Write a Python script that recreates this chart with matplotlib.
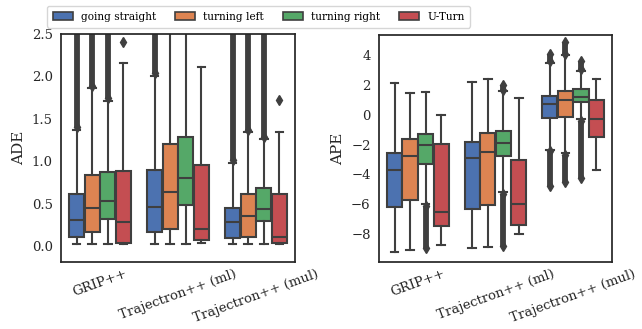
import matplotlib
matplotlib.use("Agg")
import matplotlib.pyplot as plt
from matplotlib.patches import Patch

plt.rcParams['font.family'] = ['DejaVu Serif']
plt.rcParams['axes.edgecolor'] = '#262626'
plt.rcParams['axes.linewidth'] = 1.25

groups = ["GRIP++", "Trajectron++ (ml)", "Trajectron++ (mul)"]
hues = ["going straight", "turning left", "turning right", "U-Turn"]
colors = ["#4C72B0", "#DD8452", "#55A868", "#C44E52"]

# ADE stats per group (rows) and hue (cols)
ade_whislo = [[0.02, 0.02, 0.02, 0.02], [0.02, 0.02, 0.02, 0.04], [0.02, 0.02, 0.02, 0.02]]
ade_q1 = [[0.10, 0.16, 0.32, 0.04], [0.16, 0.20, 0.48, 0.07], [0.09, 0.11, 0.29, 0.03]]
ade_med = [[0.30, 0.45, 0.53, 0.28], [0.46, 0.64, 0.80, 0.20], [0.28, 0.355, 0.44, 0.10]]
ade_q3 = [[0.61, 0.84, 0.87, 0.885], [0.90, 1.20, 1.29, 0.96], [0.45, 0.61, 0.68, 0.61]]
ade_whishi = [[1.37, 1.86, 1.71, 2.16], [2.01, 2.8, 2.8, 2.11], [0.98, 1.34, 1.26, 1.34]]
# dense outlier ranges (low, high) and single outliers
ade_dense = [[[(1.40, 2.8)], [(1.89, 2.8)], [(1.74, 2.8)], []],
             [[(2.04, 2.8)], [], [], []],
             [[(1.01, 2.8)], [(1.37, 2.8)], [(1.29, 2.8)], []]]
ade_single = [[[], [], [], [2.40]], [[], [], [], []], [[], [], [], [1.72]]]

ape_whislo = [[-9.24, -9.08, -6.0, -8.74], [-8.94, -8.9, -5.2, -8.0], [-2.35, -2.6, -0.3, -3.73]]
ape_q1 = [[-6.2, -5.75, -3.28, -7.5], [-6.31, -6.09, -2.79, -7.44], [-0.2, -0.13, 0.85, -1.48]]
ape_med = [[-3.71, -2.79, -2.02, -6.56], [-2.88, -2.49, -1.91, -5.98], [0.74, 1.01, 1.21, -0.31]]
ape_q3 = [[-2.56, -1.6, -1.28, -1.93], [-1.84, -1.21, -1.06, -3.01], [1.30, 1.57, 1.71, 0.99]]
ape_whishi = [[2.11, 1.44, 1.53, -0.04], [2.22, 2.43, 1.6, 1.1], [3.5, 4.0, 2.95, 2.38]]
ape_dense = [[[], [], [(-8.95, -6.1)], []],
             [[], [], [(-8.85, -5.3), (1.7, 2.0)], []],
             [[(-4.8, -2.45), (3.6, 4.1)], [(-4.55, -2.7), (4.1, 4.9)], [(-4.25, -0.4), (3.05, 3.6)], []]]
ape_single = [[[], [], [], []], [[], [], [], []], [[], [], [], []]]

ade_ticks = [0.0, 0.5, 1.0, 1.5, 2.0, 2.5]
ape_ticks = [-8, -6, -4, -2, 0, 2, 4]

fig = plt.figure(figsize=(6.42, 3.29), dpi=100)
ax1 = fig.add_axes([61/642, 67/329, 234/642, 228/329])
ax2 = fig.add_axes([379/642, 67/329, 233/642, 227/329])

gray = "#3f3f3f"
bw = 0.196


def draw(ax, wlo, q1, med, q3, whi, dense, single):
    for g in range(len(groups)):
        for h in range(len(hues)):
            pos = g + (h - 1.5) * 0.2
            fl = list(single[g][h])
            for lo, hi in dense[g][h]:
                fl += [lo, hi]
            stats = [dict(whislo=wlo[g][h], q1=q1[g][h], med=med[g][h], q3=q3[g][h],
                          whishi=whi[g][h], fliers=fl)]
            ax.bxp(stats, positions=[pos], widths=bw, patch_artist=True, capwidths=bw / 2,
                   boxprops=dict(facecolor=colors[h], edgecolor=gray, linewidth=1.5),
                   medianprops=dict(color=gray, linewidth=1.5),
                   whiskerprops=dict(color=gray, linewidth=1.5),
                   capprops=dict(color=gray, linewidth=1.5),
                   flierprops=dict(marker='d', markerfacecolor=gray, markeredgecolor=gray,
                                   markersize=5, linestyle='none'),
                   manage_ticks=False)
            for lo, hi in dense[g][h]:
                ax.vlines(pos, lo, hi, color=gray, linewidth=4.2, zorder=2)
    ax.set_xlim(-0.5, 2.5)
    ax.set_xticks(range(len(groups)))
    ax.set_xticklabels(groups, rotation=20)
    ax.tick_params(length=0, labelsize=9.5, pad=6, colors='#262626')
    ax.tick_params(axis='x', pad=4)


draw(ax1, ade_whislo, ade_q1, ade_med, ade_q3, ade_whishi, ade_dense, ade_single)
ax1.set_ylim(-0.19, 2.5)
ax1.set_yticks(ade_ticks)
ax1.set_ylabel("ADE", fontsize=11, color='#262626')

draw(ax2, ape_whislo, ape_q1, ape_med, ape_q3, ape_whishi, ape_dense, ape_single)
ax2.set_ylim(-9.9, 5.37)
ax2.set_yticks(ape_ticks)
ax2.set_ylabel("APE", fontsize=11, color='#262626')

handles = [Patch(facecolor=c, edgecolor=gray, linewidth=1.2, label=l) for c, l in zip(colors, hues)]
fig.legend(handles=handles, loc='upper center', bbox_to_anchor=(0.403, 0.998), ncol=4,
           fontsize=7.6, frameon=True, edgecolor='0.8', handlelength=1.9, handletextpad=0.8,
           columnspacing=1.75, borderpad=0.55)

fig.savefig("out.png", dpi=100)
